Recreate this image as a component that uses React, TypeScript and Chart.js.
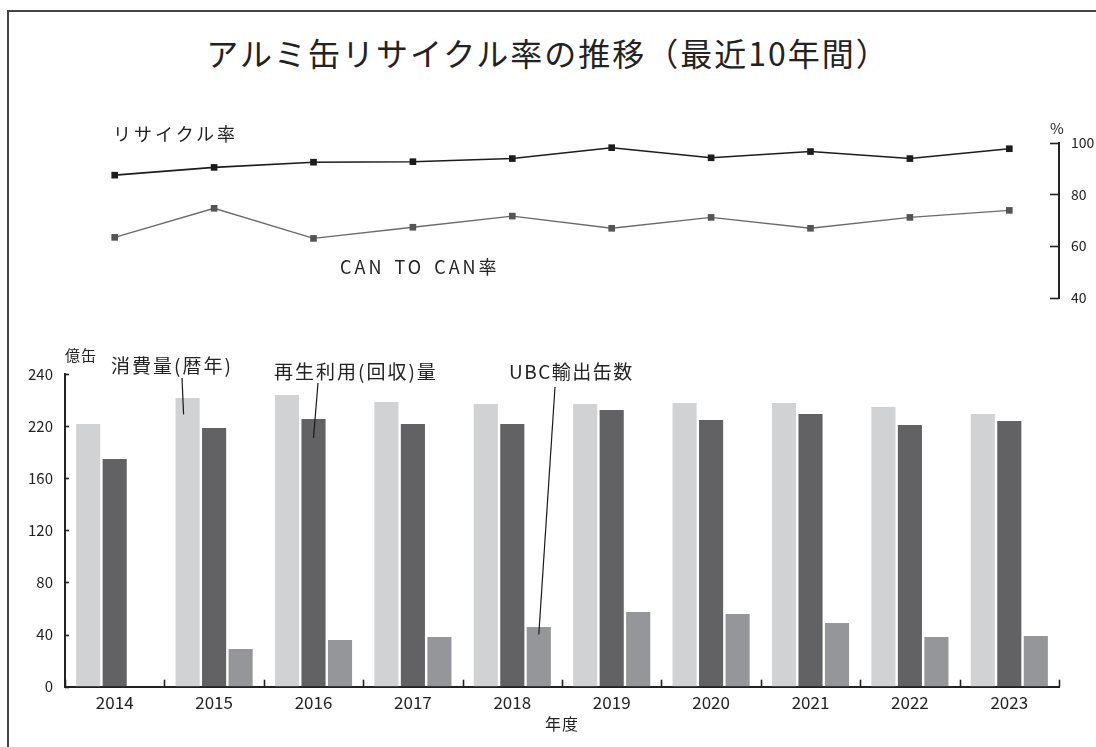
import React, { useEffect, useRef } from "react";
import { Chart, registerables } from "chart.js";

Chart.register(...registerables);

// ---------------- data ----------------
const years = ["2014", "2015", "2016", "2017", "2018", "2019", "2020", "2021", "2022", "2023"];
const recycleRate = [87.4, 90.4, 92.4, 92.6, 93.8, 98.0, 94.1, 96.5, 93.8, 97.6];
const canToCanRate = [63.4, 74.6, 63.0, 67.3, 71.6, 66.9, 71.1, 66.9, 71.1, 73.8];
const consumption = [201.6, 221.6, 223.9, 218.5, 217.0, 217.0, 217.7, 217.7, 214.7, 209.3];
const recycled = [174.8, 198.5, 205.4, 201.6, 201.6, 212.4, 204.7, 209.3, 200.8, 203.9];
const ubcExport = [null, 28.9, 35.8, 38.1, 45.8, 57.3, 55.8, 48.9, 38.1, 38.9];
const barTickValues = [0, 40, 80, 120, 160, 200, 240];
const barTickLabels = ["0", "40", "80", "120", "160", "220", "240"];
const rateTickValues = [40, 60, 80, 100];
const rateTickLabels = ["40", "60", "80", "100"];

// ---------------- layout ----------------
const FONT = "'Noto Sans CJK JP', 'Noto Sans', sans-serif";
const TEXT = "#222";
const W = 1096;
const LINE_TOP = 100;
const LINE_H = 220;
const BAR_TOP = 330;
const BAR_H = 417;

// leader lines: start point (page coords) -> end at a bar element
const leaders = [
  { x1: 182, y1: 378, ds: 0, idx: 1, dx: -4, v: 209 },
  { x1: 318, y1: 383, ds: 1, idx: 2, dx: 0, v: 191 },
  { x1: 555, y1: 387, ds: 2, idx: 4, dx: 0, v: 40 },
];

const innerTicks = {
  id: "innerTicks",
  afterDraw(chart: any, _args: any, opts: any) {
    const ctx = chart.ctx;
    ctx.save();
    ctx.strokeStyle = opts.color || "#222";
    ctx.lineWidth = opts.width || 1.5;
    const ys = chart.scales.y;
    if (ys && opts.yValues) {
      const right = opts.yPos === "right";
      const x0 = right ? ys.left : ys.right;
      const dir = right ? -1 : 1;
      opts.yValues.forEach((v: number) => {
        const py = Math.round(ys.getPixelForValue(v)) + 0.5;
        ctx.beginPath();
        ctx.moveTo(x0, py);
        ctx.lineTo(x0 + dir * opts.yLen, py);
        ctx.stroke();
      });
    }
    if (opts.xBoundaries) {
      const xs = chart.scales.x;
      const n = xs.getLabels().length;
      const w = (xs.right - xs.left) / n;
      for (let i = 0; i <= n; i++) {
        const px = Math.round(xs.left + i * w) + 0.5;
        ctx.beginPath();
        ctx.moveTo(px, xs.top);
        ctx.lineTo(px, xs.top - opts.xLen);
        ctx.stroke();
      }
    }
    if (opts.leaders) {
      ctx.lineWidth = 1.2;
      ctx.strokeStyle = "#1a1a1a";
      opts.leaders.forEach((l: any) => {
        const el = chart.getDatasetMeta(l.ds).data[l.idx];
        if (!el) return;
        ctx.beginPath();
        ctx.moveTo(l.x1, l.y1 - BAR_TOP);
        ctx.lineTo(el.x + l.dx, ys.getPixelForValue(l.v));
        ctx.stroke();
      });
    }
    ctx.restore();
  },
};

type LabelProps = {
  text: string;
  x: number;
  y: number;
  size: number;
  align?: "left" | "center";
  spacing?: number;
  wordSpacing?: number;
};

function Label({ text, x, y, size, align = "left", spacing = 0, wordSpacing = 0 }: LabelProps) {
  return (
    <div
      style={{
        position: "absolute",
        left: x,
        top: y,
        transform: align === "center" ? "translate(-50%, -50%)" : "translate(0, -50%)",
        fontFamily: FONT,
        fontSize: size,
        lineHeight: 1.2,
        letterSpacing: spacing,
        wordSpacing,
        color: TEXT,
        whiteSpace: "nowrap",
      }}
    >
      {text}
    </div>
  );
}

export default function App() {
  const lineRef = useRef<HTMLCanvasElement | null>(null);
  const barRef = useRef<HTMLCanvasElement | null>(null);

  useEffect(() => {
    const charts: Chart[] = [];
    if (lineRef.current) {
      charts.push(
        new Chart(lineRef.current, {
          type: "line",
          data: {
            labels: years,
            datasets: [
              {
                data: recycleRate,
                borderColor: "#1c1c1c",
                borderWidth: 1.6,
                pointStyle: "rect",
                pointRadius: 4.7,
                pointBackgroundColor: "#1c1c1c",
                pointBorderWidth: 0,
                tension: 0,
                clip: false,
              },
              {
                data: canToCanRate,
                borderColor: "#6a6a6a",
                borderWidth: 1.4,
                pointStyle: "rect",
                pointRadius: 4.7,
                pointBackgroundColor: "#555555",
                pointBorderWidth: 0,
                tension: 0,
                clip: false,
              },
            ],
          },
          options: {
            responsive: false,
            animation: false,
            devicePixelRatio: 1,
            layout: { padding: { left: 65, top: 42.5, right: 0, bottom: 22 } },
            plugins: {
              legend: { display: false },
              tooltip: { enabled: false },
              innerTicks: { yValues: rateTickValues, yPos: "right", yLen: 9, color: "#222", width: 1.6 },
            } as any,
            scales: {
              x: { type: "category", offset: true, display: false },
              y: {
                position: "right",
                min: 40,
                max: 100,
                afterBuildTicks: (s: any) => {
                  s.ticks = rateTickValues.map((v) => ({ value: v }));
                },
                afterFit: (s: any) => {
                  s.width = W - 1059;
                },
                grid: { display: true, drawOnChartArea: false, drawTicks: false },
                border: { display: true, color: "#222", width: 2 },
                ticks: {
                  padding: 12,
                  color: TEXT,
                  font: { family: FONT, size: 14 },
                  callback: (v: any) => rateTickLabels[rateTickValues.indexOf(Number(v))],
                },
              },
            },
          },
          plugins: [innerTicks],
        })
      );
    }
    if (barRef.current) {
      charts.push(
        new Chart(barRef.current, {
          type: "bar",
          data: {
            labels: years,
            datasets: [
              { data: consumption, backgroundColor: "#d1d2d4", categoryPercentage: 0.8, barPercentage: 0.91 },
              { data: recycled, backgroundColor: "#626264", categoryPercentage: 0.8, barPercentage: 0.91 },
              { data: ubcExport as any, backgroundColor: "#959699", categoryPercentage: 0.8, barPercentage: 0.91 },
            ],
          },
          options: {
            responsive: false,
            animation: false,
            devicePixelRatio: 1,
            layout: { padding: { left: 0, top: 44, right: W - 1059, bottom: 0 } },
            plugins: {
              legend: { display: false },
              tooltip: { enabled: false },
              innerTicks: {
                yValues: barTickValues,
                yPos: "left",
                yLen: 4,
                xBoundaries: true,
                xLen: 7,
                color: "#222",
                width: 1.6,
                leaders,
              },
            } as any,
            scales: {
              x: {
                type: "category",
                offset: true,
                afterFit: (s: any) => {
                  s.height = BAR_H - 356.7;
                },
                grid: { display: true, drawOnChartArea: false, drawTicks: false },
                border: { display: true, color: "#222", width: 2 },
                ticks: {
                  padding: 6,
                  color: TEXT,
                  maxRotation: 0,
                  autoSkip: false,
                  font: { family: FONT, size: 17 },
                },
              },
              y: {
                min: 0,
                max: 240,
                afterBuildTicks: (s: any) => {
                  s.ticks = barTickValues.map((v) => ({ value: v }));
                },
                afterFit: (s: any) => {
                  s.width = 65;
                },
                grid: { display: true, drawOnChartArea: false, drawTicks: false },
                border: { display: true, color: "#222", width: 2 },
                ticks: {
                  padding: 12,
                  color: TEXT,
                  font: { family: FONT, size: 15 },
                  callback: (v: any) => barTickLabels[barTickValues.indexOf(Number(v))],
                },
              },
            },
          },
          plugins: [innerTicks],
        })
      );
    }
    const fontsAny = (document as any).fonts;
    if (fontsAny && fontsAny.load) {
      fontsAny
        .load("16px 'Noto Sans CJK JP'")
        .then(() => charts.forEach((c) => c.update()))
        .catch(() => {});
    }
    return () => charts.forEach((c) => c.destroy());
  }, []);

  return (
    <div
      style={{
        position: "fixed",
        left: 0,
        top: 0,
        width: W,
        height: 747,
        overflow: "hidden",
        background: "#fff",
      }}
    >
      <div
        style={{
          position: "absolute",
          left: 7,
          top: 10,
          width: 1300,
          height: 900,
          borderTop: "2px solid #444",
          borderLeft: "2px solid #444",
        }}
      />
      <canvas
        ref={lineRef}
        width={W}
        height={LINE_H}
        style={{ position: "absolute", left: 0, top: LINE_TOP, display: "block" }}
      />
      <canvas
        ref={barRef}
        width={W}
        height={BAR_H}
        style={{ position: "absolute", left: 0, top: BAR_TOP, display: "block" }}
      />
      <Label text="アルミ缶リサイクル率の推移（最近10年間）" x={548} y={52} size={32} align="center" spacing={2} />
      <Label text="リサイクル率" x={113} y={134} size={18} spacing={3} />
      <Label text="CAN TO CAN率" x={340} y={267} size={18} spacing={3} wordSpacing={3} />
      <Label text="%" x={1050} y={128} size={15} />
      <Label text="億缶" x={65} y={355} size={15} spacing={1} />
      <Label text="消費量(暦年)" x={111} y={365} size={19} spacing={2} />
      <Label text="再生利用(回収)量" x={274} y={371} size={19} spacing={2} />
      <Label text="UBC輸出缶数" x={509} y={371} size={19} spacing={1.5} />
      <Label text="年度" x={562} y={724} size={16} align="center" spacing={1} />
    </div>
  );
}
